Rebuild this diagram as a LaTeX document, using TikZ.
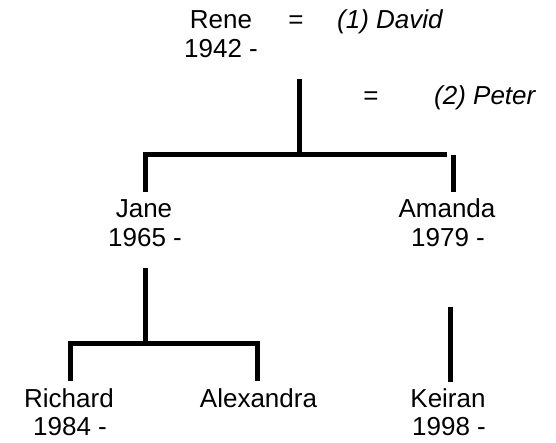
\documentclass[tikz,border=0pt]{standalone}
\usepackage{fontspec}
\setmainfont{Liberation Sans}
\begin{document}
\begin{tikzpicture}[x=1pt,y=-1pt,
  person/.style={anchor=base,inner sep=0pt,font=\fontsize{26}{30}\selectfont},
  spouse/.style={anchor=base west,inner sep=0pt,font=\fontsize{26}{30}\selectfont\itshape},
  eqsign/.style={anchor=base,inner sep=0pt,font=\fontsize{26}{30}\selectfont},
  link/.style={line width=5pt,line cap=butt,line join=miter}]
\useasboundingbox (0,0) rectangle (556,443);
% top generation
\node[person] (rene) at (221,29) {Rene};
\node[person] (reneD) at (221,58) {1942 -};
\node[eqsign] (eq1) at (296,29) {=};
\node[spouse] (david) at (337,29) {(1) David};
\node[eqsign] (eq2) at (371,105) {=};
\node[spouse] (peter) at (434,105) {(2) Peter};
% second generation
\node[person] (jane) at (144,218) {Jane};
\node[person] (janeD) at (145,247) {1965 -};
\node[person] (amanda) at (447,218) {Amanda};
\node[person] (amandaD) at (448,247) {1979 -};
% third generation
\node[person] (richard) at (69,407) {Richard};
\node[person] (richardD) at (70,435) {1984 -};
\node[person] (alex) at (258.5,407) {Alexandra};
\node[person] (keiran) at (448,407) {Keiran};
\node[person] (keiranD) at (449,435) {1998 -};
% connector points
\coordinate (c1top) at (299,79);
\coordinate (c1mid) at (299,155);
\coordinate (c1L) at (145,155);
\coordinate (c1Lb) at (145,192);
\coordinate (c1R) at (447,155);
\coordinate (c1Rt) at (453,155);
\coordinate (c1Rb) at (453,192);
\coordinate (c2top) at (145,268);
\coordinate (c2mid) at (145,343);
\coordinate (c2L) at (70,343);
\coordinate (c2Lb) at (70,381);
\coordinate (c2R) at (257,343);
\coordinate (c2Rb) at (257,381);
\coordinate (c3top) at (450,307);
\coordinate (c3b) at (450,382);
% connectors
\draw[link] (c1top) -- (c1mid);
\draw[link] (c1Lb) -- (c1L) -- (c1R);
\draw[link] (c1Rt) -- (c1Rb);
\draw[link] (c2top) -- (c2mid);
\draw[link] (c2Lb) -- (c2L) -- (c2R) -- (c2Rb);
\draw[link] (c3top) -- (c3b);
\end{tikzpicture}
\end{document}
